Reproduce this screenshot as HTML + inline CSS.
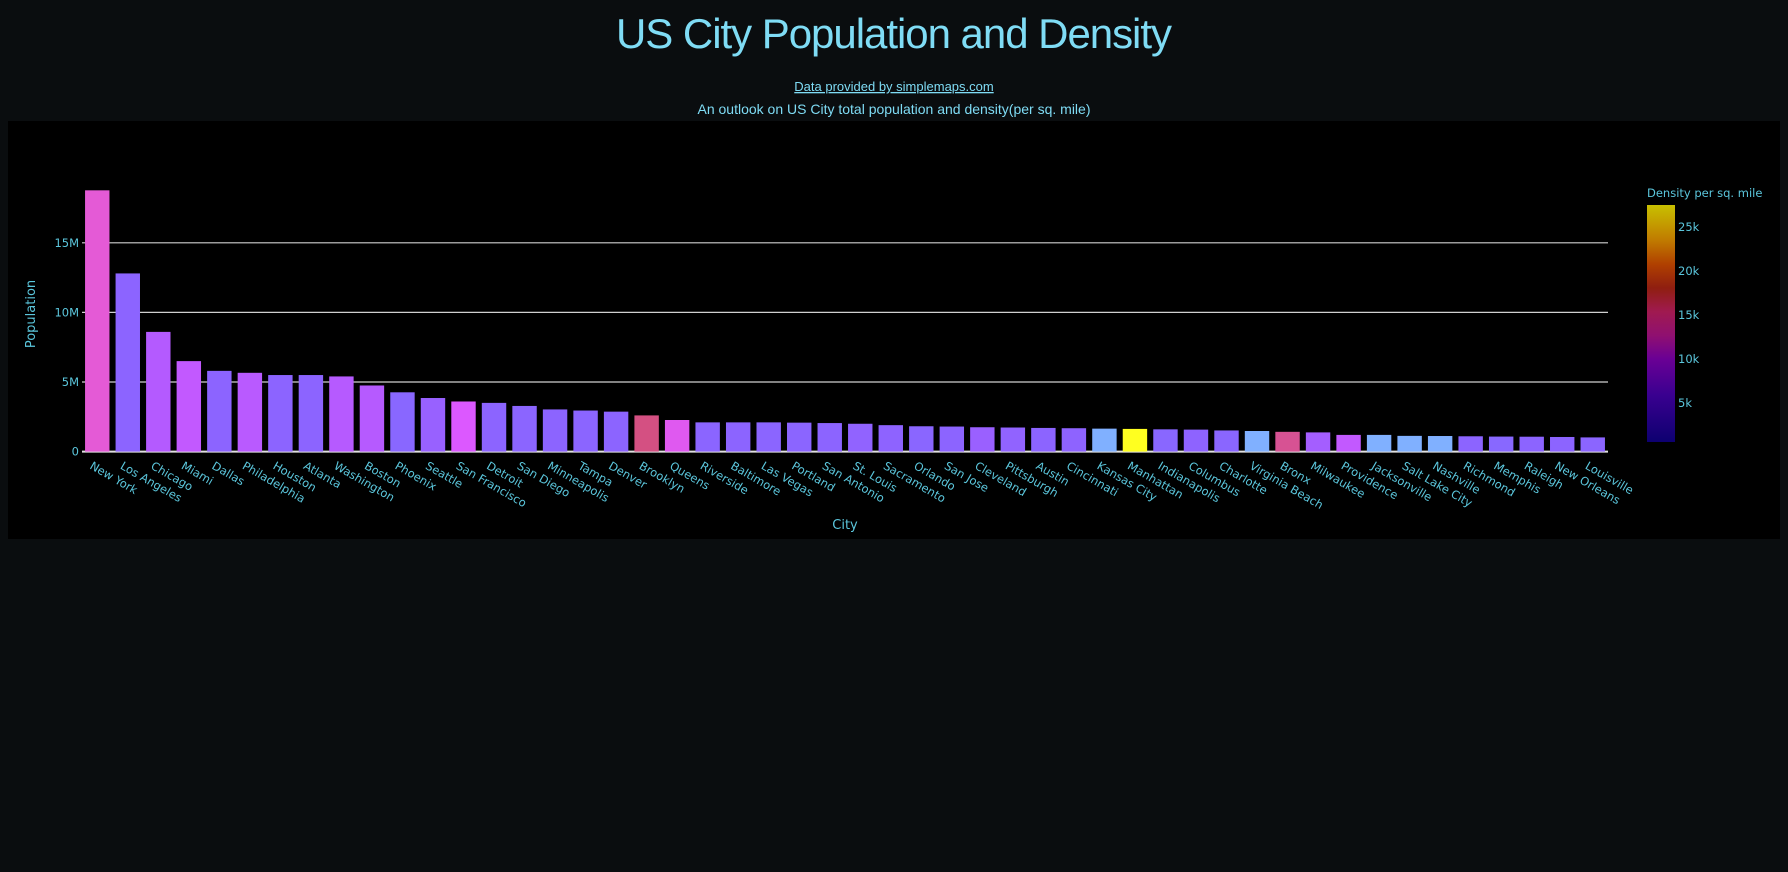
<!DOCTYPE html>
<html><head><meta charset="utf-8"><style>
html,body{margin:0;padding:0;background:#0a0d0f;width:1788px;height:872px;overflow:hidden}
svg{display:block}
</style></head><body>
<svg id="chart" width="1788" height="872" xmlns="http://www.w3.org/2000/svg">
<rect x="0" y="0" width="1788" height="872" fill="#0a0d0f"/>
<text x="894" y="48" text-anchor="middle" font-family="Liberation Sans, sans-serif" font-size="42" fill="#7fdcf5" textLength="556">US City Population and Density</text>
<text x="894" y="91" text-anchor="middle" font-family="Liberation Sans, sans-serif" font-size="13" fill="#7fdcf5" text-decoration="underline">Data provided by simplemaps.com</text>
<text x="894" y="114" text-anchor="middle" font-family="Liberation Sans, sans-serif" font-size="14" fill="#7fdcf5">An outlook on US City total population and density(per sq. mile)</text>
<rect x="8" y="121" width="1772" height="418" fill="#000"/>
<g id="grid"></g><g id="bars"></g><g id="xlabels"></g><g id="ylabels"></g><g id="cbar"></g>
<text x="0" y="0" transform="translate(35,314) rotate(-90)" text-anchor="middle" font-family="DejaVu Sans, sans-serif" font-size="13" fill="#5bc6dc">Population</text>
<text x="845" y="529" text-anchor="middle" font-family="DejaVu Sans, sans-serif" font-size="13" fill="#5bc6dc">City</text>
</svg>
<script>
const cities=["New York","Los Angeles","Chicago","Miami","Dallas","Philadelphia","Houston","Atlanta","Washington","Boston","Phoenix","Seattle","San Francisco","Detroit","San Diego","Minneapolis","Tampa","Denver","Brooklyn","Queens","Riverside","Baltimore","Las Vegas","Portland","San Antonio","St. Louis","Sacramento","Orlando","San Jose","Cleveland","Pittsburgh","Austin","Cincinnati","Kansas City","Manhattan","Indianapolis","Columbus","Charlotte","Virginia Beach","Bronx","Milwaukee","Providence","Jacksonville","Salt Lake City","Nashville","Richmond","Memphis","Raleigh","New Orleans","Louisville"];
const population=[18.77,12.8,8.6,6.5,5.8,5.66,5.5,5.5,5.4,4.75,4.26,3.85,3.6,3.5,3.28,3.03,2.95,2.87,2.6,2.27,2.1,2.1,2.1,2.08,2.05,2.0,1.9,1.82,1.8,1.75,1.73,1.7,1.68,1.65,1.63,1.6,1.58,1.52,1.48,1.42,1.38,1.2,1.2,1.13,1.12,1.1,1.08,1.07,1.05,1.02];
const density=[11000,3000,4700,5500,2900,5000,3000,2900,4800,4800,2300,3500,7000,3000,2600,2900,2700,2900,13500,8500,2800,2900,2600,2600,2900,3200,3100,2500,3000,3600,3200,2900,3100,1500,28000,2300,3100,2400,1500,13000,4000,5500,1200,1700,1400,2900,2000,2900,3000,2700];
const yTicks=[0,5,10,15];
const yTickLabels=["0","5M","10M","15M"];
const cbTicks=[5,10,15,20,25];
const cbTickLabels=["5k","10k","15k","20k","25k"];
const NS="http://www.w3.org/2000/svg";
const x0=82,x1=1608,y0=451.6,pxPerM=69.6/5;
const step=(x1-x0)/cities.length;
const X=i=>x0+step*(i+0.5);
const Y=v=>y0-v*pxPerM;
function mk(t,a){const e=document.createElementNS(NS,t);for(const k in a)e.setAttribute(k,a[k]);return e;}
const stops=[[0,[128,176,255]],[1800,[128,176,255]],[1900,[136,104,255]],[3000,[140,100,255]],[4700,[180,90,255]],[7000,[220,88,255]],[11000,[228,90,214]],[13500,[212,80,130]],[20000,[230,150,60]],[28000,[255,255,32]]];
function col(d){for(let i=1;i<stops.length;i++){if(d<=stops[i][0]){const a=stops[i-1],b=stops[i];const t=(d-a[0])/(b[0]-a[0]||1);const c=a[1].map((v,j)=>Math.round(v+(b[1][j]-v)*t));return `rgb(${c})`;}}return 'rgb(255,255,32)';}
const grid=document.getElementById('grid'),bars=document.getElementById('bars'),xl=document.getElementById('xlabels'),yl=document.getElementById('ylabels'),cb=document.getElementById('cbar');
yTicks.forEach((v,i)=>{
 if(v>0){const l=mk('line',{x1:x0,x2:x1,y1:Y(v),y2:Y(v),stroke:'#d0d0d0','stroke-width':1.2});
 
 
 grid.appendChild(l);}
 const t=mk('text',{x:x0-3,y:Y(v)+4,'text-anchor':'end','font-family':'DejaVu Sans, sans-serif','font-size':11.5,fill:'#5bc6dc'});
 t.textContent=yTickLabels[i];
 
 
 yl.appendChild(t);
});
cities.forEach((c,i)=>{
 const w=step*0.8;
 const r=mk('rect',{x:X(i)-w/2,y:Y(population[i]),width:w,height:y0-Y(population[i]),fill:col(density[i])});
 
 
 bars.appendChild(r);
 const t=mk('text',{x:0,y:0,transform:`translate(${X(i)-4},${y0+9}) rotate(30)`,'font-family':'DejaVu Sans, sans-serif','font-size':11.5,fill:'#5bc6dc'});
 t.setAttribute('dy','0.75em');
 t.textContent=c;
 
 
 xl.appendChild(t);
});
const zl=mk('line',{x1:x0,x2:x1,y1:y0,y2:y0,stroke:'#e0e0e0','stroke-width':2});


grid.appendChild(zl);
const cbx=1647,cbw=28,cbTop=205,cbBot=442,cbZero=447,cbPx=44/5;
const defs=mk('defs',{});const g=mk('linearGradient',{id:'cbg',x1:0,y1:1,x2:0,y2:0});
[[0,'#0d0070'],[0.2,'#3a0090'],[0.35,'#6a0095'],[0.45,'#901070'],[0.55,'#a01a50'],[0.65,'#8f1e10'],[0.75,'#b04000'],[0.85,'#c07a00'],[1,'#c8c000']].forEach(s=>{g.appendChild(mk('stop',{offset:s[0],'stop-color':s[1]}));});
defs.appendChild(g);cb.appendChild(defs);
const cr=mk('rect',{x:cbx,y:cbTop,width:cbw,height:cbBot-cbTop,fill:'url(#cbg)'});


cb.appendChild(cr);
const ct=mk('text',{x:cbx,y:197,'font-family':'DejaVu Sans, sans-serif','font-size':11.5,fill:'#5bc6dc'});
ct.textContent='Density per sq. mile';


cb.appendChild(ct);
cbTicks.forEach((v,i)=>{
 const t=mk('text',{x:cbx+cbw+3,y:cbZero-v*cbPx+4,'font-family':'DejaVu Sans, sans-serif','font-size':11.5,fill:'#5bc6dc'});
 t.textContent=cbTickLabels[i];
 
 
 cb.appendChild(t);
});
</script>
</body></html>
